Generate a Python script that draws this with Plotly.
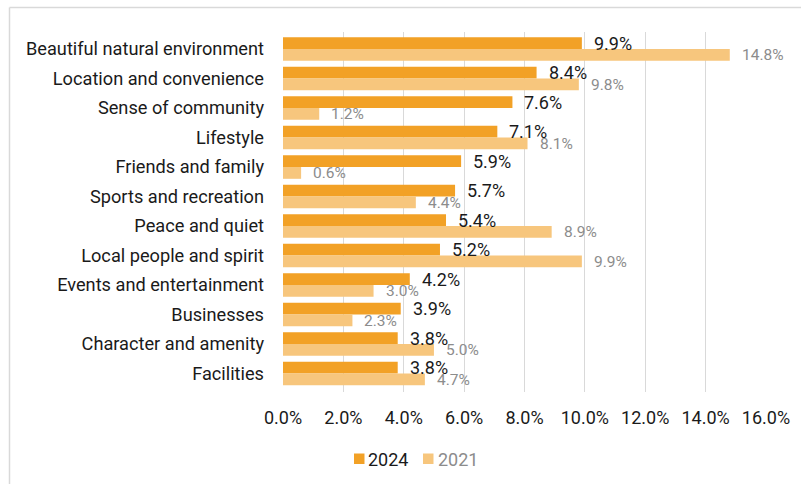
import plotly.graph_objects as go

categories = [
    "Beautiful natural environment",
    "Location and convenience",
    "Sense of community",
    "Lifestyle",
    "Friends and family",
    "Sports and recreation",
    "Peace and quiet",
    "Local people and spirit",
    "Events and entertainment",
    "Businesses",
    "Character and amenity",
    "Facilities",
]
share_2024 = [9.9, 8.4, 7.6, 7.1, 5.9, 5.7, 5.4, 5.2, 4.2, 3.9, 3.8, 3.8]
share_2021 = [14.8, 9.8, 1.2, 8.1, 0.6, 4.4, 8.9, 9.9, 3.0, 2.3, 5.0, 4.7]
tick_values = [0, 2, 4, 6, 8, 10, 12, 14, 16]
tick_labels = ["0.0%", "2.0%", "4.0%", "6.0%", "8.0%", "10.0%", "12.0%", "14.0%", "16.0%"]

W, H = 801, 484
L, R, T, B = 283, 35, 32, 92
PW, PH = W - L - R, H - T - B

C24 = "#F2A126"
C21 = "#F7C67D"
DARK = "#1a1a1a"
GREY = "#8c8c8c"
FONT = "Roboto, Inter, Arial, sans-serif"


def px_x(p):
    return (p - L) / PW


def px_y(p):
    return (H - B - p) / PH


fig = go.Figure()
fig.add_trace(go.Bar(y=categories, x=share_2024, orientation="h", name="2024",
                     marker=dict(color=C24, line=dict(width=0))))
fig.add_trace(go.Bar(y=categories, x=share_2021, orientation="h", name="2021",
                     marker=dict(color=C21, line=dict(width=0))))

annotations = []
for cat, v in zip(categories, share_2024):
    annotations.append(dict(x=v, y=cat, xref="x", yref="y", text=f"{v:.1f}%",
                            showarrow=False, xanchor="left", yanchor="middle",
                            xshift=10, yshift=6,
                            font=dict(family=FONT, size=18, color=DARK)))
for cat, v in zip(categories, share_2021):
    annotations.append(dict(x=v, y=cat, xref="x", yref="y", text=f"{v:.1f}%",
                            showarrow=False, xanchor="left", yanchor="middle",
                            xshift=10, yshift=-6,
                            font=dict(family=FONT, size=15.5, color=GREY)))

# legend entries
legend_items = [("2024", C24, DARK, 354, 366), ("2021", C21, GREY, 423, 436)]
shapes = []
for name, col, tcol, sx, tx in legend_items:
    shapes.append(dict(type="rect", xref="paper", yref="paper",
                       x0=px_x(sx), x1=px_x(sx + 10.5), y0=px_y(464), y1=px_y(453.5),
                       fillcolor=col, line=dict(width=0)))
    annotations.append(dict(x=px_x(tx), y=px_y(459), xref="paper", yref="paper",
                            text=name, showarrow=False, xanchor="left", yanchor="middle",
                            font=dict(family=FONT, size=18, color=tcol)))

# outer frame (top and left edges)
shapes.append(dict(type="line", xref="paper", yref="paper",
                   x0=px_x(9.5), x1=px_x(9.5), y0=px_y(H + 2), y1=px_y(7.5),
                   line=dict(color="#d9d9d9", width=1.5)))
shapes.append(dict(type="line", xref="paper", yref="paper",
                   x0=px_x(9.5), x1=px_x(W + 2), y0=px_y(7.5), y1=px_y(7.5),
                   line=dict(color="#d9d9d9", width=1.5)))

fig.update_layout(
    width=W, height=H,
    margin=dict(l=L, r=R, t=T, b=B),
    paper_bgcolor="white", plot_bgcolor="white",
    barmode="group", bargap=0.2, bargroupgap=0,
    showlegend=False,
    font=dict(family=FONT, size=18, color=DARK),
    annotations=annotations,
    shapes=shapes,
)
fig.update_xaxes(range=[0, 16], tickvals=tick_values, ticktext=tick_labels,
                 showgrid=True, gridcolor="#d9d9d9", gridwidth=1,
                 zeroline=False, showline=False, ticks="",
                 tickfont=dict(family=FONT, size=18, color=DARK),
                 ticklabelstandoff=13)
fig.update_yaxes(autorange="reversed", showgrid=False, showline=False, ticks="",
                 tickfont=dict(family=FONT, size=18.2, color=DARK),
                 ticklabelstandoff=18)

fig.write_html("out.html")
